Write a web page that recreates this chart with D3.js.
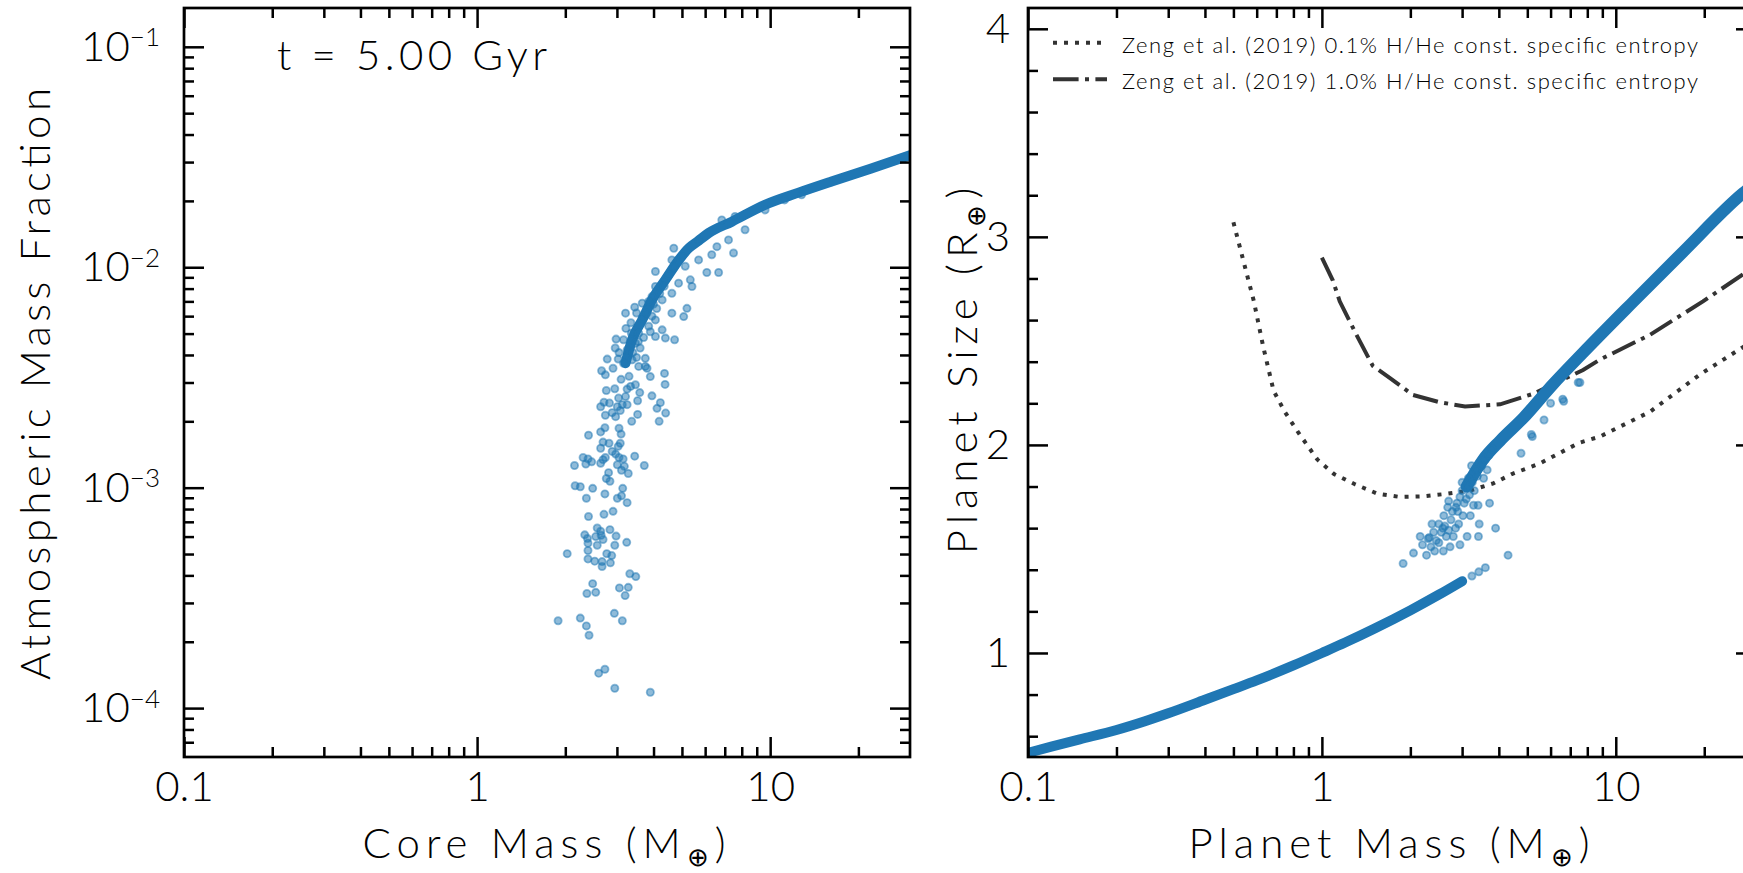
<!DOCTYPE html>
<html>
<head>
<meta charset="utf-8">
<script src="https://cdn.jsdelivr.net/npm/d3@7"></script>
<style>
body { margin: 0; background: #fff; }
svg { display: block; }
text { font-family: Lato, Roboto, "DejaVu Sans", sans-serif; font-weight: 300; fill: #000; }
.tick line { stroke: #000; stroke-width: 2.5; }
.tick text { font-size: 42px; }
</style>
</head>
<body>
<script>
// ---- data ----
// left panel: core mass (Mearth) vs atmospheric mass fraction, single planets
var leftScatter = [
  [1.89,2.49e-4],[2.25,2.56e-4],[2.36,2.36e-4],[2.41,2.14e-4],[2.94,2.69e-4],[3.13,2.49e-4],
  [2.60,1.44e-4],[2.73,1.50e-4],[2.95,1.23e-4],[3.90,1.18e-4],
  [2.48,3.67e-4],[2.37,3.31e-4],[2.54,3.35e-4],[3.06,3.51e-4],[3.28,3.53e-4],[3.20,3.24e-4],[3.32,4.07e-4],[3.48,3.95e-4],
  [2.03,5.02e-4],[2.39,5.19e-4],[2.39,4.75e-4],[2.52,4.64e-4],[2.67,4.62e-4],[2.67,4.39e-4],[2.85,4.56e-4],
  [2.77,5.02e-4],[2.88,4.92e-4],[2.95,5.48e-4],[3.24,5.65e-4],[2.57,5.48e-4],[2.39,5.60e-4],[2.33,6.11e-4],
  [2.38,5.88e-4],[2.54,6.00e-4],[2.65,6.08e-4],[2.57,6.56e-4],[2.64,6.34e-4],[2.69,5.82e-4],[2.84,6.45e-4],[2.98,6.03e-4],
  [2.40,7.40e-4],[2.71,7.57e-4],[2.91,7.81e-4],
  [2.36,8.95e-4],[2.73,9.37e-4],[3.01,8.95e-4],[3.11,9.18e-4],[3.25,8.55e-4],[3.14,9.93e-4],
  [2.16,1.02e-3],[2.25,1.01e-3],[2.48,9.93e-4],[2.76,1.10e-3],[2.84,1.07e-3],[2.81,1.17e-3],
  [2.15,1.26e-3],[2.35,1.28e-3],[2.30,1.37e-3],[2.39,1.35e-3],[2.46,1.31e-3],[2.64,1.29e-3],[2.69,1.34e-3],
  [2.74,1.37e-3],[3.01,1.27e-3],[3.11,1.20e-3],[3.18,1.25e-3],[3.28,1.16e-3],[3.45,1.39e-3],[3.72,1.26e-3],
  [2.97,1.42e-3],[3.05,1.37e-3],[3.15,1.35e-3],[2.89,1.46e-3],
  [2.64,1.51e-3],[2.69,1.61e-3],[2.82,1.59e-3],[3.08,1.59e-3],[3.03,1.54e-3],[2.40,1.73e-3],[2.64,1.79e-3],
  [2.73,1.87e-3],[3.05,1.86e-3],[3.10,1.75e-3],
  [3.37,2.00e-3],[4.18,2.00e-3],[3.53,2.15e-3],[2.74,2.13e-3],[2.97,2.10e-3],[2.64,2.33e-3],[2.71,2.44e-3],
  [2.83,2.42e-3],[3.01,2.33e-3],[3.13,2.38e-3],[3.25,2.38e-3],[3.08,2.24e-3],[2.89,2.19e-3],[4.11,2.29e-3],
  [4.22,2.43e-3],[4.40,2.18e-3],[3.53,2.48e-3],[3.95,2.61e-3],[2.76,2.76e-3],[2.95,2.81e-3],[3.59,2.70e-3],
  [4.38,2.94e-3],[3.21,2.59e-3],[3.34,2.88e-3],[3.47,2.93e-3],[3.04,2.55e-3],
  [2.78,3.83e-3],[3.03,3.83e-3],[2.66,3.39e-3],[2.74,3.25e-3],[2.91,3.48e-3],[3.16,3.67e-3],[3.38,3.80e-3],
  [3.56,3.55e-3],[3.75,3.55e-3],[4.36,3.30e-3],[2.98,4.72e-3],[2.96,4.30e-3],[3.25,4.22e-3],[3.47,4.52e-3],
  [3.75,3.86e-3],[3.80,3.48e-3],[3.90,3.19e-3],[3.16,4.69e-3],[3.36,5.02e-3],[3.56,5.02e-3],[4.06,4.85e-3],
  [4.39,4.77e-3],[4.72,4.69e-3],[3.22,5.28e-3],[3.21,6.19e-3],[3.45,6.59e-3],[3.66,5.88e-3],[3.80,6.19e-3],
  [4.06,5.77e-3],[4.28,5.20e-3],[3.66,6.87e-3],[3.95,7.36e-3],[4.28,7.11e-3],[4.62,6.19e-3],[5.07,5.97e-3],
  [5.20,6.51e-3],[4.62,7.62e-3],[4.06,8.18e-3],[4.06,9.57e-3],[4.39,8.77e-3],[4.87,8.47e-3],[5.34,8.77e-3],
  [4.69,1.22e-2],[4.62,1.08e-2],[5.00,1.12e-2],[5.70,1.08e-2],[6.08,9.47e-3],[6.67,9.47e-3],[6.32,1.14e-2],
  [5.70,1.33e-2],[6.58,1.24e-2],[7.21,1.33e-2],[7.50,1.16e-2],[8.21,1.48e-2],[9.61,1.82e-2],[11.2,2.02e-2],
  [12.8,2.13e-2],[6.84,1.64e-2],[7.59,1.70e-2],[5.13,1.01e-2],[5.41,8.18e-3],
  [3.30,3.2e-3],[3.50,3.9e-3],[3.60,4.3e-3],[3.70,4.8e-3],[3.85,5.4e-3],[3.95,6.0e-3],[4.10,6.5e-3],
  [4.20,7.6e-3],[4.35,8.2e-3],[3.40,4.1e-3],[3.55,4.6e-3],[3.90,5.1e-3],[4.00,6.8e-3],[4.50,9.2e-3],
  [4.70,1.0e-2],[3.10,3.1e-3],[3.25,2.8e-3],[3.05,4.1e-3],[3.35,5.6e-3],[3.50,6.2e-3],[3.85,7.0e-3]
];
// where the points pile up into a solid ridge
var leftRidge = [
  [3.21,0.00367],[3.38,0.00469],[3.66,0.00577],[3.95,0.0071],[4.39,0.00877],[4.88,0.0108],
  [5.27,0.0122],[5.7,0.0132],[6.17,0.0143],[7.4,0.0161],[9.6,0.0192],[12.5,0.0218],[16.2,0.0245],
  [22.0,0.0280],[30,0.0322]
];

// right panel: planet mass vs planet radius
var rockyLine = [
  [0.1,0.52],[0.12,0.55],[0.15,0.585],[0.2,0.63],[0.25,0.672],[0.3,0.71],[0.4,0.775],[0.5,0.826],
  [0.6,0.868],[0.8,0.94],[1.0,1.0],[1.2,1.05],[1.5,1.115],[2.0,1.205],[2.5,1.28],[3.0,1.345]
];
var rightRidge = [
  [3.11,1.80],[3.54,1.93],[4.04,2.02],[4.85,2.13],[6.1,2.29],
  [7.7,2.44],[11.5,2.69],[17.0,2.93],[27.1,3.21],[30,3.26]
];
var rightScatter = [
  [1.89,1.43],[2.05,1.48],[2.27,1.47],[2.42,1.49],[2.59,1.49],[2.73,1.51],[2.95,1.52],[2.16,1.56],
  [2.37,1.62],[2.45,1.54],[3.9,1.60],[3.43,1.62],[3.72,1.72],[3.4,1.71],[3.2,1.66],[3.12,1.56],
  [2.8,1.56],[2.65,1.56],[2.7,1.73],[3.0,1.82],[3.23,1.90],[2.35,1.51],[3.41,1.56],[4.3,1.47],
  [4.76,1.96],[5.2,2.04],[5.7,2.12],[6.0,2.20],[6.65,2.21],[7.45,2.30],[6.6,2.22],[7.55,2.30],[5.16,2.05],
  [3.24,1.37],[3.42,1.39],[3.6,1.41],
  [2.5,1.62],[2.6,1.66],[2.75,1.64],[2.9,1.68],[2.55,1.58],[2.85,1.60],[3.05,1.72],[3.3,1.78],
  [2.95,1.75],[3.15,1.84],[3.35,1.88],[2.4,1.58],[2.68,1.70],
  [2.2,1.52],[2.3,1.55],[2.5,1.53],[2.62,1.61],[2.78,1.68],[2.92,1.62],[3.02,1.66],[3.1,1.74],
  [3.25,1.82],[3.38,1.85],[3.5,1.90],[3.6,1.93],[3.7,1.95],[3.8,1.98],[2.7,1.59],[2.88,1.72],
  [3.0,1.78],[3.18,1.76],[3.28,1.71],[3.55,1.84],[3.65,1.88],[2.32,1.555],[2.58,1.60],[2.86,1.70]
];
// Zeng et al. (2019) constant specific entropy curves
var zeng01 = [
  [0.50,3.07],[0.587,2.69],[0.632,2.47],[0.685,2.26],[0.747,2.16],[0.831,2.06],[0.965,1.93],[1.10,1.86],
  [1.30,1.81],[1.55,1.765],[1.84,1.75],[2.21,1.753],[2.66,1.765],[3.18,1.78],[3.83,1.815],[4.43,1.86],
  [5.5,1.91],[7.5,2.01],[8.83,2.04],[13.1,2.16],[19.4,2.34],[27.1,2.47],[30,2.51]
];
var zeng10 = [
  [1.0,2.90],[1.09,2.79],[1.15,2.69],[1.31,2.53],[1.49,2.38],[1.71,2.32],[2.04,2.24],[2.52,2.205],
  [3.07,2.185],[4.04,2.195],[5.22,2.245],[7.74,2.36],[8.83,2.41],[13.1,2.53],[19.8,2.69],[27.1,2.82],[30,2.85]
];
var legendLabels = [
  "Zeng et al. (2019) 0.1% H/He const. specific entropy",
  "Zeng et al. (2019) 1.0% H/He const. specific entropy"
];

// tick values and labels
var massTicks = [0.1, 1, 10];
var massLabels = ["0.1", "1", "10"];
var fracTicks = [1e-4, 1e-3, 1e-2, 1e-1];
var fracExp = ["\u22124", "\u22123", "\u22122", "\u22121"];
var sizeTicks = [1, 2, 3, 4];
var timeLabel = "t = 5.00 Gyr";

var blue = "#1f77b4";

// ---- layout ----
var W = 1743, H = 873;
var yTop = 8, yBot = 757;

var xL = d3.scaleLog().domain([0.1, 30]).range([184, 910]);
var yL = d3.scaleLog().domain([6e-5, 0.15]).range([yBot, yTop]);
var xR = d3.scaleLog().domain([0.1, 30]).range([1028, 1756]);
var yR = d3.scaleLinear().domain([0.5, 4.1]).range([yBot, yTop]);

var svg = d3.select("body").append("svg")
    .attr("width", W)
    .attr("height", H);

var defs = svg.append("defs");
defs.append("clipPath").attr("id", "clipL")
  .append("rect").attr("x", 184).attr("y", yTop).attr("width", 910 - 184).attr("height", yBot - yTop);
defs.append("clipPath").attr("id", "clipR")
  .append("rect").attr("x", 1028).attr("y", yTop).attr("width", 1756 - 1028).attr("height", yBot - yTop);

// minor ticks of a log axis inside the domain
function logMinor(scale) {
  var d = scale.domain(), out = [];
  for (var e = -6; e < 3; e++) {
    for (var k = 2; k < 10; k++) {
      var v = k * Math.pow(10, e);
      if (v > d[0] * 1.001 && v < d[1] * 0.999) out.push(v);
    }
  }
  return out;
}

function strip(g) {
  g.attr("font-size", null).attr("font-family", null);
  g.select(".domain").remove();
}

function drawAxes(x, y, yMajor, yMinor, yFormat, yPad) {
  var x0 = x.range()[0], x1 = x.range()[1];
  var xMinor = logMinor(x);

  // bottom
  svg.append("g").attr("transform", "translate(0," + yBot + ")")
    .call(d3.axisBottom(x).tickValues(xMinor).tickSize(-10).tickFormat("")).call(strip);
  svg.append("g").attr("transform", "translate(0," + yBot + ")")
    .call(d3.axisBottom(x).tickValues(massTicks).tickSize(-20).tickPadding(14)
      .tickFormat(function(d, i) { return massLabels[i]; })).call(strip);
  // top
  svg.append("g").attr("transform", "translate(0," + yTop + ")")
    .call(d3.axisTop(x).tickValues(xMinor).tickSize(-10).tickFormat("")).call(strip);
  svg.append("g").attr("transform", "translate(0," + yTop + ")")
    .call(d3.axisTop(x).tickValues(massTicks).tickSize(-20).tickFormat("")).call(strip);
  // left
  svg.append("g").attr("transform", "translate(" + x0 + ",0)")
    .call(d3.axisLeft(y).tickValues(yMinor).tickSize(-10).tickFormat("")).call(strip);
  var yl = svg.append("g").attr("transform", "translate(" + x0 + ",0)")
    .call(d3.axisLeft(y).tickValues(yMajor).tickSize(-20).tickPadding(yPad).tickFormat(yFormat)).call(strip);
  // right
  svg.append("g").attr("transform", "translate(" + x1 + ",0)")
    .call(d3.axisRight(y).tickValues(yMinor).tickSize(-10).tickFormat("")).call(strip);
  svg.append("g").attr("transform", "translate(" + x1 + ",0)")
    .call(d3.axisRight(y).tickValues(yMajor).tickSize(-20).tickFormat("")).call(strip);

  // frame
  svg.append("rect")
    .attr("x", x0).attr("y", yTop)
    .attr("width", x1 - x0).attr("height", yBot - yTop)
    .attr("fill", "none").attr("stroke", "#000").attr("stroke-width", 2.7);
  return yl;
}

var line = function(x, y) {
  return d3.line().x(function(d) { return x(d[0]); }).y(function(d) { return y(d[1]); });
};

// ---- left panel ----
var gL = svg.append("g").attr("clip-path", "url(#clipL)");
gL.append("path")
  .datum(leftRidge)
  .attr("d", line(xL, yL).curve(d3.curveMonotoneX))
  .attr("fill", "none").attr("stroke", blue).attr("stroke-width", 10)
  .attr("stroke-linecap", "round").attr("stroke-linejoin", "round");
gL.selectAll("circle")
  .data(leftScatter)
  .enter().append("circle")
  .attr("cx", function(d) { return xL(d[0]); })
  .attr("cy", function(d) { return yL(d[1]); })
  .attr("r", 3.6)
  .attr("fill", blue).attr("fill-opacity", 0.5)
  .attr("stroke", blue).attr("stroke-opacity", 0.5).attr("stroke-width", 1.8);

var ylAxis = drawAxes(xL, yL, fracTicks, logMinor(yL), function() { return ""; }, 24);
ylAxis.selectAll(".tick text").each(function(d, i) {
  var t = d3.select(this);
  t.append("tspan").text("10");
  t.append("tspan").attr("dy", "-0.55em").style("font-size", "26px").text(fracExp[i]);
});

svg.append("text")
  .attr("x", 277).attr("y", 70)
  .attr("textLength", 270).attr("lengthAdjust", "spacing")
  .style("font-size", "42px")
  .text(timeLabel);

var t1 = svg.append("text")
  .attr("x", 547).attr("y", 858)
  .attr("text-anchor", "middle")
  .style("font-size", "42px").style("letter-spacing", "6px");
t1.append("tspan").text("Core Mass (M");
t1.append("tspan").attr("dy", 8).style("font-size", "26px").text("\u2295");
t1.append("tspan").attr("dy", -8).text(")");

svg.append("text")
  .attr("transform", "translate(50,384) rotate(-90)")
  .attr("text-anchor", "middle")
  .attr("textLength", 592).attr("lengthAdjust", "spacing")
  .style("font-size", "42px")
  .text("Atmospheric Mass Fraction");

// ---- right panel ----
var gR = svg.append("g").attr("clip-path", "url(#clipR)");
gR.append("path")
  .datum(zeng01)
  .attr("d", line(xR, yR))
  .attr("fill", "none").attr("stroke", "#333").attr("stroke-width", 4)
  .attr("stroke-dasharray", "4,7");
gR.append("path")
  .datum(zeng10)
  .attr("d", line(xR, yR))
  .attr("fill", "none").attr("stroke", "#333").attr("stroke-width", 4)
  .attr("stroke-dasharray", "25.6,6.4,4,6.4");
gR.append("path")
  .datum(rockyLine)
  .attr("d", line(xR, yR).curve(d3.curveMonotoneX))
  .attr("fill", "none").attr("stroke", blue).attr("stroke-width", 10)
  .attr("stroke-linecap", "round");
gR.append("path")
  .datum(rightRidge)
  .attr("d", line(xR, yR).curve(d3.curveMonotoneX))
  .attr("fill", "none").attr("stroke", blue).attr("stroke-width", 12)
  .attr("stroke-linecap", "round").attr("stroke-linejoin", "round");
gR.selectAll("circle")
  .data(rightScatter)
  .enter().append("circle")
  .attr("cx", function(d) { return xR(d[0]); })
  .attr("cy", function(d) { return yR(d[1]); })
  .attr("r", 3.6)
  .attr("fill", blue).attr("fill-opacity", 0.5)
  .attr("stroke", blue).attr("stroke-opacity", 0.5).attr("stroke-width", 1.8);

drawAxes(xR, yR, sizeTicks, d3.range(0.6, 4.1, 0.2).filter(function(v) { return Math.abs(v - Math.round(v)) > 0.01; }),
  function(d) { return d; }, 18);

// legend
var legY = [42.7, 79.3];
var legDash = ["4,7", "25.6,6.4,4,6.4"];
legendLabels.forEach(function(lab, i) {
  svg.append("line")
    .attr("x1", 1053).attr("x2", 1107).attr("y1", legY[i]).attr("y2", legY[i])
    .attr("stroke", "#333").attr("stroke-width", 4).attr("stroke-dasharray", legDash[i]);
  svg.append("text")
    .attr("x", 1122).attr("y", legY[i] + 10)
    .attr("textLength", 576).attr("lengthAdjust", "spacing")
    .style("font-size", "22px")
    .text(lab);
});

var t2 = svg.append("text")
  .attr("x", 1392).attr("y", 858)
  .attr("text-anchor", "middle")
  .style("font-size", "42px").style("letter-spacing", "6px");
t2.append("tspan").text("Planet Mass (M");
t2.append("tspan").attr("dy", 8).style("font-size", "26px").text("\u2295");
t2.append("tspan").attr("dy", -8).text(")");

var t3 = svg.append("text")
  .attr("transform", "translate(977,368) rotate(-90)")
  .attr("text-anchor", "middle")
  .style("font-size", "42px").style("letter-spacing", "6px");
t3.append("tspan").text("Planet Size (R");
t3.append("tspan").attr("dy", 8).style("font-size", "26px").text("\u2295");
t3.append("tspan").attr("dy", -8).text(")");
</script>
</body>
</html>
